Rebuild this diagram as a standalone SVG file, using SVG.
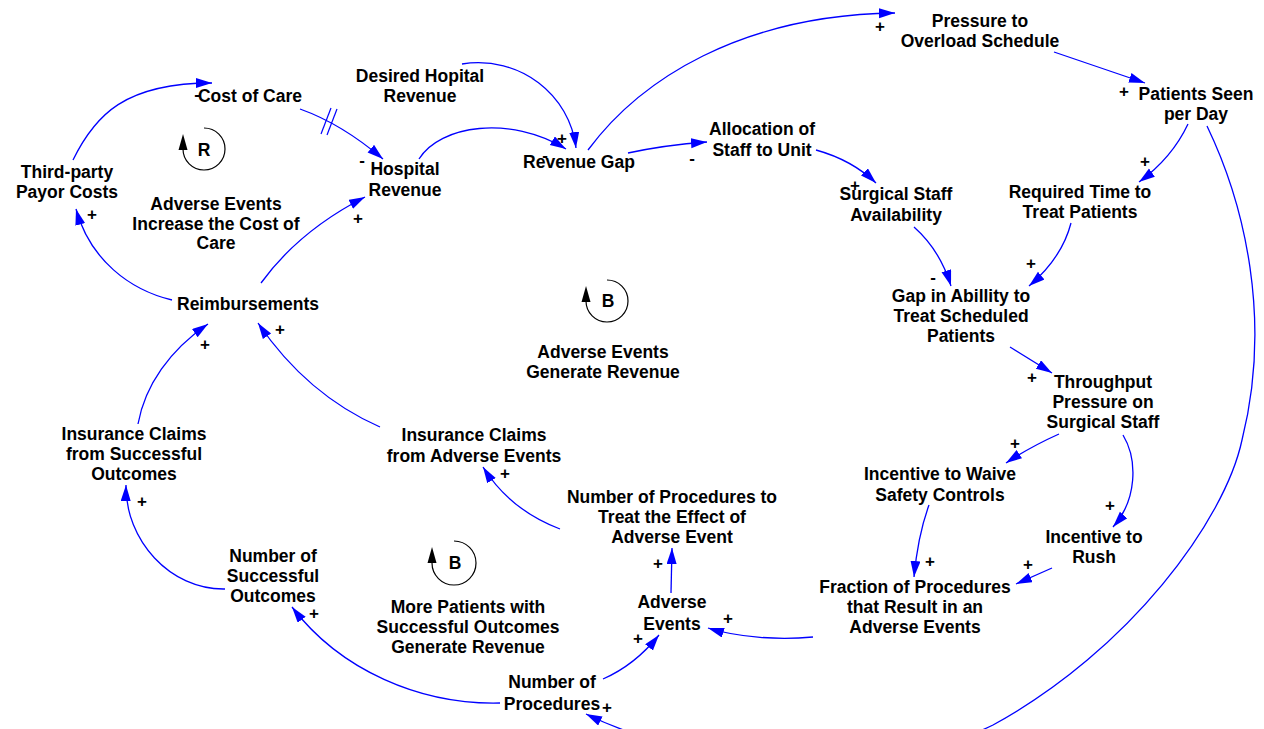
<svg xmlns="http://www.w3.org/2000/svg" width="1264" height="729" viewBox="0 0 1264 729">
<style>
.t{font-family:"Liberation Sans",Arial,sans-serif;font-weight:bold;font-size:17.5px;fill:#000;text-anchor:middle}
.p{font-family:"Liberation Sans",Arial,sans-serif;font-weight:bold;font-size:17px;fill:#000;text-anchor:middle}
.c{fill:none;stroke:#0000FF;stroke-width:1.3;marker-end:url(#ah)}
.h{fill:none;stroke:#0000FF;stroke-width:1.2}
.loop{fill:none;stroke:#000;stroke-width:1.2}
</style>
<defs>
<marker id="ah" markerUnits="userSpaceOnUse" markerWidth="17" markerHeight="11" refX="16" refY="5" orient="auto">
<path d="M0,0 L16,5 L0,10 z" fill="#0000FF"/>
</marker>
</defs>
<rect width="1264" height="729" fill="#fff"/>

<g id="connectors">
<path class="c" d="M73,160 C95,115 125,83 212,83"/>
<path class="c" d="M300,109 Q342,124 383,159"/>
<line class="h" x1="321" y1="134" x2="331" y2="108"/>
<line class="h" x1="327" y1="135" x2="337" y2="109"/>
<path class="c" d="M462,64 C520,55 570,95 576,148"/>
<path class="c" d="M419,159 C440,125 510,115 566,149"/>
<path class="c" d="M588,150 C640,80 740,15 895,13"/>
<path class="c" d="M628,153 Q665,145 707,142"/>
<path class="c" d="M816,150 Q852,160 876,183"/>
<path class="c" d="M1054,52 L1145,83"/>
<path class="c" d="M1188,124 Q1172,158 1139,182"/>
<path class="c" d="M1207,126 C1245,205 1272,320 1242,440 C1225,520 1130,650 993,725 C880,780 700,770 586,714"/>
<path class="c" d="M1071,223 Q1062,258 1029,286"/>
<path class="c" d="M914,227 Q940,250 951,286"/>
<path class="c" d="M1010,347 L1052,373"/>
<path class="c" d="M1059,434 Q1030,447 1006,463"/>
<path class="c" d="M1123,435 C1138,460 1137,500 1113,527"/>
<path class="c" d="M929,505 Q918,535 914,577"/>
<path class="c" d="M1052,568 L1016,584"/>
<path class="c" d="M813,637 C780,640 740,638 708,628"/>
<path class="c" d="M671,593 L672,548"/>
<path class="c" d="M560,529 Q510,510 483,467"/>
<path class="c" d="M380,427 C330,405 290,370 258,323"/>
<path class="c" d="M138,424 C145,385 170,350 208,324"/>
<path class="c" d="M172,300 C130,290 90,260 76,209"/>
<path class="c" d="M261,283 C285,250 320,220 365,197"/>
<path class="c" d="M500,703 C420,705 340,670 292,607"/>
<path class="c" d="M603,679 Q635,665 659,635"/>
<path class="c" d="M225,589 C170,590 125,540 126,485"/>

<g id="polarities">
<text class="p" x="92" y="220">+</text>
<text class="p" x="197" y="100">-</text>
<text class="p" x="362" y="166">-</text>
<text class="p" x="562" y="144">+</text>
<text class="p" x="545" y="161">-</text>
<text class="p" x="880" y="32">+</text>
<text class="p" x="692" y="164">-</text>
<text class="p" x="855" y="191">+</text>
<text class="p" x="1124" y="97">+</text>
<text class="p" x="1145" y="167">+</text>
<text class="p" x="933" y="283">-</text>
<text class="p" x="1031" y="269">+</text>
<text class="p" x="1032" y="383">+</text>
<text class="p" x="1015" y="449">+</text>
<text class="p" x="1110" y="511">+</text>
<text class="p" x="930" y="567">+</text>
<text class="p" x="1028" y="570">+</text>
<text class="p" x="728" y="624">+</text>
<text class="p" x="638" y="644">+</text>
<text class="p" x="658" y="569">+</text>
<text class="p" x="505" y="479">+</text>
<text class="p" x="607" y="713">+</text>
<text class="p" x="314" y="619">+</text>
<text class="p" x="142" y="507">+</text>
<text class="p" x="205" y="350">+</text>
<text class="p" x="280" y="335">+</text>
<text class="p" x="358" y="224">+</text>
</g>
</g>

<g id="n-cost-of-care"><text class="t" x="250" y="102">Cost of Care</text></g>
<g id="n-desired-revenue"><text class="t"><tspan x="420" y="82">Desired Hopital</tspan><tspan x="420" y="102">Revenue</tspan></text></g>
<g id="n-hospital-revenue"><text class="t"><tspan x="405" y="175">Hospital</tspan><tspan x="405" y="196">Revenue</tspan></text></g>
<g id="n-revenue-gap"><text class="t" x="579" y="168">Revenue Gap</text></g>
<g id="n-pressure"><text class="t"><tspan x="980" y="27">Pressure to</tspan><tspan x="980" y="47">Overload Schedule</tspan></text></g>
<g id="n-patients-seen"><text class="t"><tspan x="1196" y="100">Patients Seen</tspan><tspan x="1196" y="120">per Day</tspan></text></g>
<g id="n-allocation"><text class="t"><tspan x="762" y="135">Allocation of</tspan><tspan x="762" y="156">Staff to Unit</tspan></text></g>
<g id="n-surgical-staff"><text class="t"><tspan x="896" y="200">Surgical Staff</tspan><tspan x="896" y="221">Availability</tspan></text></g>
<g id="n-required-time"><text class="t"><tspan x="1080" y="198">Required Time to</tspan><tspan x="1080" y="218">Treat Patients</tspan></text></g>
<g id="n-gap-ability"><text class="t"><tspan x="961" y="302">Gap in Abillity to</tspan><tspan x="961" y="322">Treat Scheduled</tspan><tspan x="961" y="342">Patients</tspan></text></g>
<g id="n-throughput"><text class="t"><tspan x="1103" y="388">Throughput</tspan><tspan x="1103" y="408">Pressure on</tspan><tspan x="1103" y="428">Surgical Staff</tspan></text></g>
<g id="n-incentive-waive"><text class="t"><tspan x="940" y="480">Incentive to Waive</tspan><tspan x="940" y="501">Safety Controls</tspan></text></g>
<g id="n-incentive-rush"><text class="t"><tspan x="1094" y="543">Incentive to</tspan><tspan x="1094" y="563">Rush</tspan></text></g>
<g id="n-fraction"><text class="t"><tspan x="915" y="593">Fraction of Procedures</tspan><tspan x="915" y="613">that Result in an</tspan><tspan x="915" y="633">Adverse Events</tspan></text></g>
<g id="n-adverse-events"><text class="t"><tspan x="672" y="608">Adverse</tspan><tspan x="672" y="630">Events</tspan></text></g>
<g id="n-procedures-treat"><text class="t"><tspan x="672" y="503">Number of Procedures to</tspan><tspan x="672" y="523">Treat the Effect of</tspan><tspan x="672" y="543">Adverse Event</tspan></text></g>
<g id="n-number-procedures"><text class="t"><tspan x="552" y="688">Number of</tspan><tspan x="552" y="710">Procedures</tspan></text></g>
<g id="n-claims-adverse"><text class="t"><tspan x="474" y="441">Insurance Claims</tspan><tspan x="474" y="462">from Adverse Events</tspan></text></g>
<g id="n-claims-successful"><text class="t"><tspan x="134" y="440">Insurance Claims</tspan><tspan x="134" y="460">from Successful</tspan><tspan x="134" y="480">Outcomes</tspan></text></g>
<g id="n-successful-outcomes"><text class="t"><tspan x="273" y="562">Number of</tspan><tspan x="273" y="582">Successful</tspan><tspan x="273" y="602">Outcomes</tspan></text></g>
<g id="n-reimbursements"><text class="t" x="248" y="310">Reimbursements</text></g>
<g id="n-third-party"><text class="t"><tspan x="67" y="178">Third-party</tspan><tspan x="67" y="198">Payor Costs</tspan></text></g>

<g id="loop-R">
<path class="loop" d="M204,128 A21,21 0 1 1 183,149"/>
<path d="M183,134 L178.5,150 L187.5,150 z" fill="#000"/>
<text class="t" x="204" y="155.5">R</text>
<text class="t"><tspan x="216" y="210">Adverse Events</tspan><tspan x="216" y="230">Increase the Cost of</tspan><tspan x="216" y="249">Care</tspan></text>
</g>
<g id="loop-B1">
<path class="loop" d="M607,280 A21,21 0 1 1 586,301"/>
<path d="M586,286 L581.5,302 L590.5,302 z" fill="#000"/>
<text class="t" x="608" y="307">B</text>
<text class="t"><tspan x="603" y="358">Adverse Events</tspan><tspan x="603" y="378">Generate Revenue</tspan></text>
</g>
<g id="loop-B2">
<path class="loop" d="M454,541 A22,22 0 1 1 432,563"/>
<path d="M432,547 L427.5,563 L436.5,563 z" fill="#000"/>
<text class="t" x="455" y="569">B</text>
<text class="t"><tspan x="468" y="613">More Patients with</tspan><tspan x="468" y="633">Successful Outcomes</tspan><tspan x="468" y="653">Generate Revenue</tspan></text>
</g>
</svg>
